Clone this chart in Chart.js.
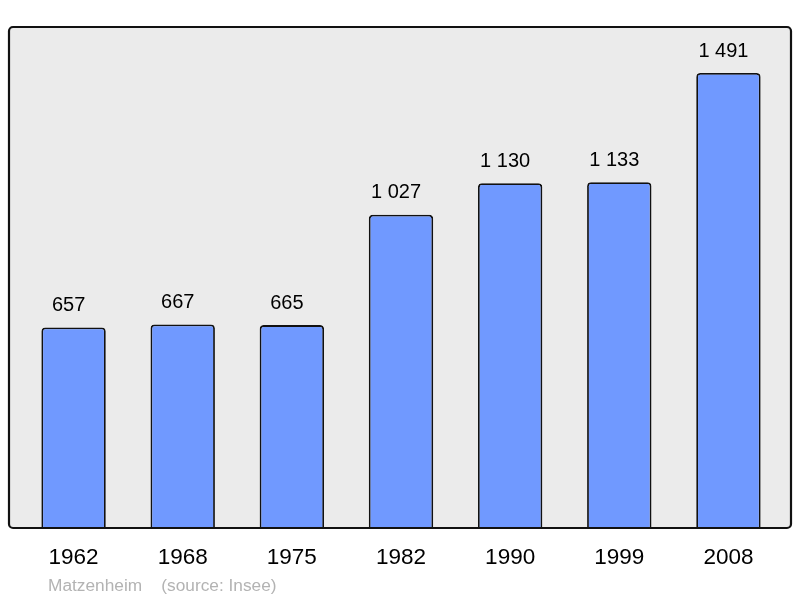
<!DOCTYPE html>
<html>
<head>
<meta charset="utf-8">
<script src="https://cdn.jsdelivr.net/npm/chart.js@4/dist/chart.umd.min.js"></script>
<style>
  html, body { margin: 0; padding: 0; background: #fff; }
  #wrap { position: relative; width: 800px; height: 598px; }
  #chart { display: block; }
  #footer {
    position: absolute; left: 48px; top: 575px;
    font-family: "Liberation Sans", Arial, sans-serif;
    font-size: 17.3px; color: #b3b3b3; white-space: pre;
  }
</style>
</head>
<body>
<div id="wrap">
  <canvas id="chart" width="800" height="598"></canvas>
  <div id="footer">Matzenheim    (source: Insee)</div>
</div>
<script>
const years = ["1962", "1968", "1975", "1982", "1990", "1999", "2008"];
const population = [657, 667, 665, 1027, 1130, 1133, 1491];
const yMax = 1642;

function formatNum(n) {
  return String(n).replace(/\B(?=(\d{3})+(?!\d))/g, " ");
}

// grey rounded box behind the bars
function boxPath(chart) {
  const { ctx, chartArea } = chart;
  ctx.beginPath();
  ctx.roundRect(
    chartArea.left - 10,
    chartArea.top,
    chartArea.right - chartArea.left + 18,
    chartArea.bottom - chartArea.top,
    4
  );
}

const plotBox = {
  id: "plotBox",
  beforeDraw(chart) {
    const ctx = chart.ctx;
    ctx.save();
    boxPath(chart);
    ctx.fillStyle = "#ebebeb";
    ctx.fill();
    ctx.restore();
  },
  afterDatasetsDraw(chart) {
    const ctx = chart.ctx;
    ctx.save();
    boxPath(chart);
    ctx.lineWidth = 2.2;
    ctx.strokeStyle = "#111";
    ctx.stroke();
    ctx.restore();
  },
};

// value labels above each bar
const valueLabels = {
  id: "valueLabels",
  afterDatasetsDraw(chart) {
    const { ctx } = chart;
    const meta = chart.getDatasetMeta(0);
    ctx.save();
    ctx.font = '20px "Liberation Sans", Arial, sans-serif';
    ctx.fillStyle = "#000";
    ctx.textAlign = "center";
    ctx.textBaseline = "middle";
    meta.data.forEach((bar, i) => {
      ctx.fillText(formatNum(population[i]), bar.x - 5, bar.y - 22);
    });
    ctx.restore();
  },
};

new Chart(document.getElementById("chart").getContext("2d"), {
  type: "bar",
  data: {
    labels: years,
    datasets: [
      {
        data: population,
        backgroundColor: "#7099ff",
        borderColor: "#111",
        borderWidth: 1.8,
        borderRadius: { topLeft: 4, topRight: 4, bottomLeft: 0, bottomRight: 0 },
        borderSkipped: "bottom",
        categoryPercentage: 1,
        barPercentage: 0.59,
      },
    ],
  },
  options: {
    responsive: false,
    animation: false,
    layout: { padding: { left: 19, right: 17, top: 27, bottom: 0 } },
    plugins: {
      legend: { display: false },
      tooltip: { enabled: false },
    },
    scales: {
      x: {
        grid: { display: false },
        border: { display: false },
        ticks: {
          color: "#000",
          padding: 8,
          font: { family: '"Liberation Sans", Arial, sans-serif', size: 22.5 },
        },
        afterFit(scale) {
          scale.height = 70;
        },
      },
      y: {
        display: false,
        min: 0,
        max: yMax,
      },
    },
  },
  plugins: [plotBox, valueLabels],
});
</script>
</body>
</html>
